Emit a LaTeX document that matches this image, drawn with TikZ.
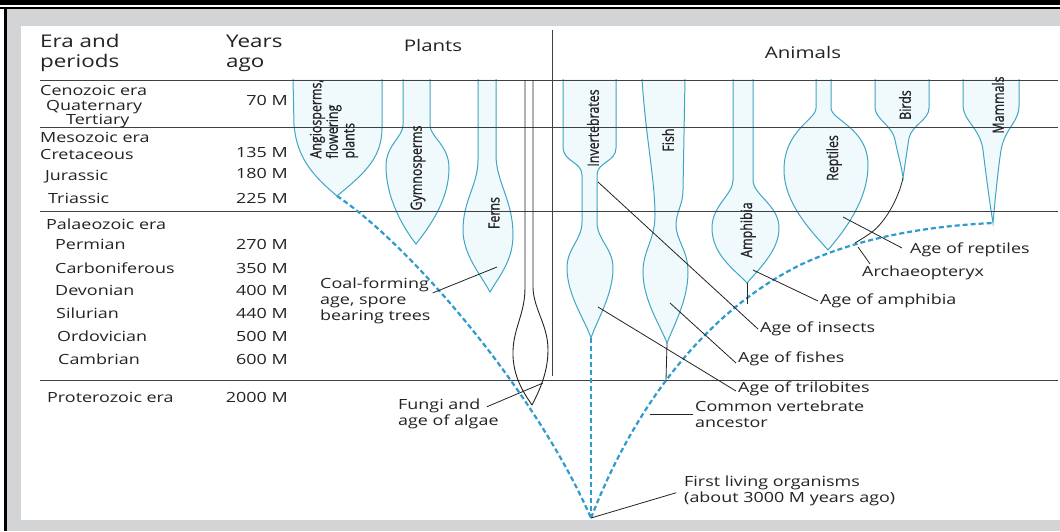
\documentclass[tikz,border=0pt]{standalone}
\usepackage{fontspec}
\setmainfont{Open Sans}[FakeStretch=1.28]
\newfontfamily\taxonfont{Open Sans}[FakeStretch=0.8, FakeBold=0.8]
\usetikzlibrary{calc}
\definecolor{branchblue}{RGB}{64,166,196}
\definecolor{branchfill}{RGB}{240,249,251}
\definecolor{dashblue}{RGB}{45,155,205}
\definecolor{framegray}{RGB}{211,212,214}
\definecolor{inkgray}{RGB}{35,35,35}

\begin{document}
\begin{tikzpicture}[
  x=1pt, y=-1pt,
  head/.style={anchor=west, inner sep=0pt, align=left, text=inkgray, font=\fontsize{17.5}{20}\selectfont},
  colhead/.style={inner sep=0pt, text=inkgray, font=\fontsize{16}{18}\selectfont},
  era/.style={anchor=west, inner sep=0pt, text=inkgray, font=\fontsize{14}{16}\selectfont},
  yr/.style={anchor=east, inner sep=0pt, text=inkgray, font=\fontsize{14}{16}\selectfont},
  lbl/.style={anchor=west, inner sep=2pt, align=left, text=inkgray, font=\fontsize{14}{16}\selectfont},
  taxon/.style={rotate=90, inner sep=0pt, align=center, text=inkgray, font=\taxonfont\fontsize{15.5}{16.5}\selectfont},
  branch/.style={draw=branchblue, fill=branchfill, line width=1pt},
  lineage/.style={draw=dashblue, line width=2.2pt, dash pattern=on 5pt off 3pt},
  leader/.style={draw=inkgray, line width=0.8pt},
  fungus/.style={draw=inkgray, line width=0.9pt},
  rule/.style={draw=black!75, line width=0.9pt}
]
\useasboundingbox (0,0) rectangle (1060,531);

% frame
\fill[black] (0,0) rectangle (1060,5);
\fill[black] (0,7) rectangle (1060,9);
\fill[black] (4,9) rectangle (7,531);
\fill[framegray] (7,9) rectangle (1060,531);
\fill[white] (21,26) rectangle (1060,520);

% branch tips
\coordinate (angtip) at (337,196);
\coordinate (gymtip) at (416,244);
\coordinate (ferntip) at (490,292);
\coordinate (invtip) at (591,338);
\coordinate (fishtip) at (667,343);
\coordinate (amphtip) at (747,283);
\coordinate (repttip) at (828,250);
\coordinate (birdtip) at (903,178);
\coordinate (mamtip) at (993,223);
\coordinate (root) at (591,518);

% plants
\path[branch] (293,79) -- (294,125) to[out=-85,in=140] (angtip) to[out=40,in=-90] (382,128) -- (382,79);
\path[branch] (403,79) -- (403,125) .. controls (403,137) and (386,145) .. (386,166)
  .. controls (386,200) and (405,230) .. (gymtip) .. controls (430,226) and (449,200) .. (449,168)
  .. controls (449,145) and (430,137) .. (430,125) -- (430,79);
\path[branch] (478,79) -- (478,160) .. controls (478,185) and (463,200) .. (463,230)
  .. controls (463,255) and (481,275) .. (ferntip) .. controls (500,275) and (513,260) .. (513,235)
  .. controls (513,200) and (496,182) .. (496,155) -- (496,79);

% animals
\path[branch] (563,79) -- (563,148) .. controls (564,162) and (582,162) .. (582,175) -- (582,222)
  .. controls (582,240) and (567,248) .. (567,268) .. controls (567,295) and (585,320) .. (invtip)
  .. controls (597,320) and (613,295) .. (613,268) .. controls (613,248) and (597,240) .. (597,222)
  -- (597,175) .. controls (597,162) and (616,162) .. (616,148) -- (616,79);
\path[branch] (642,79) .. controls (646,140) and (655,180) .. (655,215)
  .. controls (655,240) and (643,250) .. (643,272) .. controls (643,300) and (660,325) .. (fishtip)
  .. controls (674,325) and (688,300) .. (688,272) .. controls (688,250) and (676,240) .. (676,225)
  .. controls (676,212) and (683,205) .. (683,190) -- (685,79);
\path[branch] (733,79) -- (733,180) .. controls (733,195) and (712,205) .. (712,228)
  .. controls (712,255) and (735,270) .. (amphtip) .. controls (760,268) and (779,250) .. (779,228)
  .. controls (779,205) and (753,195) .. (753,180) -- (753,79);
\path[branch] (816,79) -- (816,108) .. controls (816,120) and (784,130) .. (784,170)
  .. controls (784,205) and (815,235) .. (repttip) .. controls (845,230) and (868,200) .. (868,165)
  .. controls (868,128) and (831,120) .. (831,108) -- (831,79);
\path[branch] (875,79) -- (875,108) .. controls (876,120) and (892,125) .. (895,140)
  .. controls (898,155) and (902,168) .. (birdtip) .. controls (905,165) and (907,150) .. (909,138)
  .. controls (912,125) and (929,120) .. (929,108) -- (929,79);
\path[branch] (963,79) -- (963,106) .. controls (964,122) and (980,128) .. (983,150)
  .. controls (986,175) and (990,205) .. (mamtip) .. controls (995,200) and (998,170) .. (1001,150)
  .. controls (1005,128) and (1019,122) .. (1019,106) -- (1019,79);

% table rules
\foreach \ry in {80,127,211,380}
  \draw[rule] (40,\ry) -- (1058,\ry);
\draw[rule] (552,30) -- (552,376);

% fungi and algae
\draw[fungus] (525,80) -- (525,288) .. controls (525,315) and (512,330) .. (513,356) .. controls (514,380) and (526,396) .. (532,405);
\draw[fungus] (533,80) -- (533,288) .. controls (534,310) and (548,325) .. (548,350) .. controls (548,375) and (537,395) .. (532,405);

% lines of descent
\draw[lineage] (angtip) .. controls (410,245) and (535,390) .. (root);
\draw[lineage] (invtip) -- (root);
\draw[lineage] (root) .. controls (625,430) and (690,320) .. (800,265) .. controls (870,232) and (950,225) .. (mamtip);
\draw[leader] (fishtip) -- (666,380);
\draw[leader] (amphtip) -- (747,304);
\draw[leader] (birdtip) .. controls (898,200) and (885,222) .. (872,232) .. controls (865,237) and (860,240) .. (855,243);

% headings
\node[head] (eraH) at (40,53) {Era and\\periods};
\node[head] (yearsH) at (226,53) {Years\\ago};
\node[colhead] (plantsH) at (433,45) {Plants};
\node[colhead] (animalsH) at (803,52) {Animals};

% eras and periods
\foreach \ex/\ey/\et in {40/90/Cenozoic era, 46/107/Quaternary, 66/121/Tertiary,
    40/137/Mesozoic era, 40/154/Cretaceous, 45/177/Jurassic, 48/198/Triassic,
    46/224/Palaeozoic era, 55/244/Permian, 55/268/Carboniferous, 55/290/Devonian,
    56/313/Silurian, 57/336/Ordovician, 58/359/Cambrian, 47/397/Proterozoic era}
  \node[era] (era\ey) at (\ex,\ey) {\et};
\foreach \yy/\yt in {100/70 M, 152/135 M, 173/180 M, 198/225 M, 244/270 M, 268/350 M,
    290/400 M, 313/440 M, 336/500 M, 359/600 M, 397/2000 M}
  \node[yr] (yr\yy) at (288,\yy) {\yt};

% group names
\node[taxon, align=left] (angio) at (334,119) {Angiosperms,\\flowering\\plants};
\node[taxon] (gymno) at (418,168) {Gymnosperms};
\node[taxon] (ferns) at (494,213) {Ferns};
\node[taxon] (invert) at (593,128) {Invertebrates};
\node[taxon] (fish) at (668,140) {Fish};
\node[taxon] (amph) at (748,230) {Amphibia};
\node[taxon] (rept) at (834,158) {Reptiles};
\node[taxon] (birds) at (905,105) {Birds};
\node[taxon] (mamm) at (998,105) {Mammals};

% ages
\node[lbl] (agerep) at (908,250) {Age of reptiles};
\node[lbl] (archx) at (860,273) {Archaeopteryx};
\node[lbl] (ageamph) at (818,301) {Age of amphibia};
\node[lbl] (ageins) at (758,329) {Age of insects};
\node[lbl] (agefish) at (736,359) {Age of fishes};
\node[lbl] (agetril) at (736,389) {Age of trilobites};
\node[lbl] (cva) at (693,414) {Common vertebrate\\ancestor};
\node[lbl] (first) at (682,491) {First living organisms\\(about 3000 M years ago)};
\node[lbl] (coal) at (318,301) {Coal-forming\\age, spore\\bearing trees};
\node[lbl] (fungi) at (396,414) {Fungi and\\age of algae};

\coordinate (fernpt) at (497,267);
\coordinate (fungpt) at (543,383);
\coordinate (inspt) at (598,182);
\coordinate (trilpt) at (598,307);
\coordinate (fishpt) at (670,303);
\coordinate (amphpt) at (753,270);
\coordinate (reptpt) at (843,217);
\coordinate (archpt) at (858,247);
\coordinate (cvapt) at (650,414);

\draw[leader] (reptpt) -- ([shift={(-6,-2)}]agerep.west);
\draw[leader] (archpt) -- ([xshift=10pt]archx.north west);
\draw[leader] (amphpt) -- (ageamph.west);
\draw[leader] (inspt) -- (ageins.west);
\draw[leader] (fishpt) -- ([yshift=-4pt]agefish.west);
\draw[leader] (trilpt) -- ([yshift=-2pt]agetril.west);
\draw[leader] (cvapt) -- (cvapt -| cva.west);
\draw[leader, shorten >=6pt] (root) -- (first.west);
\draw[leader] (coal.8) -- (fernpt);
\draw[leader] ([shift={(-14,10)}]fungi.north east) -- (fungpt);
\end{tikzpicture}
\end{document}
